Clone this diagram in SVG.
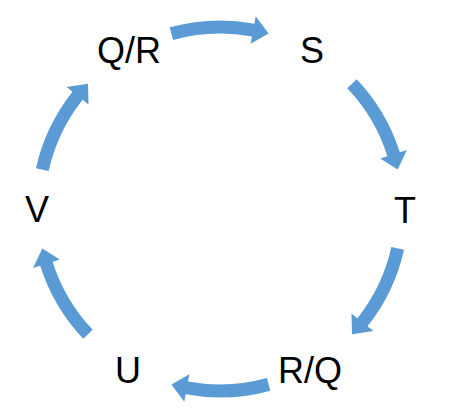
<svg xmlns="http://www.w3.org/2000/svg" width="449" height="420" viewBox="0 0 449 420">
<style>
.arc{fill:#5B9BD5;stroke:none}
.lbl{font-family:"Liberation Sans",Arial,sans-serif;font-size:36px;fill:#000;text-anchor:middle}
</style>
<rect width="449" height="420" fill="#fff"/>
<g id="connectors">
<path class="arc" d="M169.63,27.36 A188.5,188.5 0 0 1 254.35,23.65 L255.71,16.27 L268.63,33.62 L250.61,43.81 L251.98,36.43 A175.5,175.5 0 0 0 173.11,39.89 Z"/>
<path class="arc" transform="rotate(62 220 209)" d="M169.63,27.36 A188.5,188.5 0 0 1 254.35,23.65 L255.71,16.27 L268.63,33.62 L250.61,43.81 L251.98,36.43 A175.5,175.5 0 0 0 173.11,39.89 Z"/>
<path class="arc" transform="rotate(118 220 209)" d="M169.63,27.36 A188.5,188.5 0 0 1 254.35,23.65 L255.71,16.27 L268.63,33.62 L250.61,43.81 L251.98,36.43 A175.5,175.5 0 0 0 173.11,39.89 Z"/>
<path class="arc" transform="rotate(180 220 209)" d="M169.63,27.36 A188.5,188.5 0 0 1 254.35,23.65 L255.71,16.27 L268.63,33.62 L250.61,43.81 L251.98,36.43 A175.5,175.5 0 0 0 173.11,39.89 Z"/>
<path class="arc" transform="rotate(242 220 209)" d="M169.63,27.36 A188.5,188.5 0 0 1 254.35,23.65 L255.71,16.27 L268.63,33.62 L250.61,43.81 L251.98,36.43 A175.5,175.5 0 0 0 173.11,39.89 Z"/>
<path class="arc" transform="rotate(298 220 209)" d="M169.63,27.36 A188.5,188.5 0 0 1 254.35,23.65 L255.71,16.27 L268.63,33.62 L250.61,43.81 L251.98,36.43 A175.5,175.5 0 0 0 173.11,39.89 Z"/>
</g>
<g id="node-QR"><text class="lbl" x="129" y="63">Q/R</text></g>
<g id="node-S"><text class="lbl" x="312" y="63">S</text></g>
<g id="node-T"><text class="lbl" x="405" y="223">T</text></g>
<g id="node-RQ"><text class="lbl" x="310" y="383">R/Q</text></g>
<g id="node-U"><text class="lbl" x="128" y="383">U</text></g>
<g id="node-V"><text class="lbl" x="37" y="222">V</text></g>
</svg>
